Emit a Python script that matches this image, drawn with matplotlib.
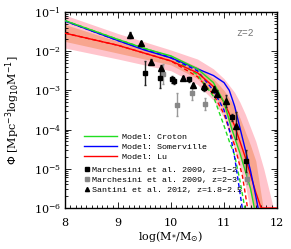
import numpy as np
import matplotlib
matplotlib.use("Agg")
import matplotlib.pyplot as plt
from matplotlib.ticker import MultipleLocator, LogLocator, NullFormatter
from matplotlib.lines import Line2D

# ---- model curves (log10 phi vs log10 M*) ----
croton_x = [8.0, 9.0, 9.5, 10.0, 10.5, 10.8, 11.0, 11.15, 11.3, 11.5, 11.58]
croton_y = [-1.22, -1.70, -1.93, -2.12, -2.45, -2.80, -3.30, -4.00, -4.60, -5.50, -6.05]
croton_dash_x = [8.0, 9.0, 10.0, 10.5, 10.8, 11.0, 11.1, 11.2, 11.3, 11.4]
croton_dash_y = [-1.22, -1.70, -2.15, -2.60, -3.15, -3.90, -4.30, -4.65, -5.30, -6.05]

somerville_x = [8.0, 9.0, 9.5, 10.0, 10.5, 10.8, 11.0, 11.1, 11.2, 11.3, 11.4, 11.5, 11.6, 11.65]
somerville_y = [-1.23, -1.73, -1.97, -2.17, -2.45, -2.62, -2.80, -3.00, -3.40, -3.95, -4.50, -5.05, -5.70, -6.05]
somerville_dash_x = [8.0, 9.0, 10.0, 10.5, 10.8, 11.0, 11.1, 11.2, 11.3, 11.35]
somerville_dash_y = [-1.23, -1.73, -2.17, -2.50, -3.00, -3.50, -4.00, -4.70, -5.60, -6.05]

lu_x = [8.0, 9.0, 9.5, 10.0, 10.5, 10.8, 11.0, 11.2, 11.4, 11.6, 11.7, 12.0]
lu_y = [-1.54, -1.85, -2.05, -2.25, -2.55, -2.90, -3.30, -3.90, -4.70, -5.60, -6.00, -6.00]
lu_dash_x = [8.0, 9.0, 10.0, 10.5, 10.8, 11.0, 11.2, 11.35, 11.45]
lu_dash_y = [-1.54, -1.85, -2.25, -2.65, -3.10, -3.60, -4.40, -5.20, -6.05]

# ---- Lu model uncertainty bands ----
band_x = [8.0, 9.0, 9.5, 10.0, 10.5, 10.8, 11.0, 11.2, 11.3, 11.4, 11.5, 11.6, 11.75, 11.95]
outer_hi = [-1.08, -1.55, -1.76, -1.97, -2.20, -2.45, -2.70, -3.05, -3.30, -3.60, -3.95, -4.30, -5.00, -6.10]
outer_lo = [-1.92, -2.20, -2.35, -2.50, -2.85, -3.25, -3.70, -4.50, -4.95, -5.40, -6.10, -6.10, -6.10, -6.10]
inner_hi = [-1.32, -1.75, -1.93, -2.10, -2.40, -2.70, -3.00, -3.40, -3.70, -4.05, -4.40, -4.80, -6.10, -6.10]
inner_lo = [-1.75, -2.05, -2.20, -2.35, -2.70, -3.10, -3.50, -4.20, -4.60, -5.10, -5.60, -6.10, -6.10, -6.10]

# ---- observations ----
march12_x = [9.51, 9.79, 10.02, 10.06, 10.34, 10.62, 11.16, 11.42]
march12_y = [-2.56, -2.69, -2.72, -2.76, -2.72, -2.94, -3.69, -4.79]
march12_e = [0.30, 0.26, 0.08, 0.08, 0.07, 0.08, 0.10, 0.28]

march23_x = [9.84, 10.11, 10.39, 10.64, 11.44]
march23_y = [-2.58, -3.36, -3.07, -3.35, -5.25]
march23_e = [0.25, 0.30, 0.18, 0.15, 0.15]

santini_x = [9.23, 9.43, 9.63, 9.82, 10.22, 10.42, 10.62, 10.81, 10.87, 11.03, 11.22]
santini_y = [-1.59, -1.80, -2.27, -2.42, -2.68, -2.87, -2.89, -2.97, -3.08, -3.28, -3.90]
santini_e = [0.08, 0.06, 0.06, 0.06, 0.06, 0.06, 0.08, 0.08, 0.10, 0.15, 0.35]

pink = "#ffc4cc"
salmon = "#f8a58f"
green = "#22dd22"

fig = plt.figure(figsize=(2.91, 2.49), dpi=100)
ax = fig.add_axes([65 / 291, 1 - 208 / 249, 212 / 291, 196 / 249])

p = lambda v: 10.0 ** np.asarray(v)

ax.fill_between(band_x, p(outer_lo), p(outer_hi), color=pink, lw=0, zorder=1)
ax.fill_between(band_x, p(inner_lo), p(inner_hi), color=salmon, lw=0, zorder=1.1)

ax.plot(lu_dash_x, p(lu_dash_y), color="red", lw=1.0, dashes=(3, 2), zorder=2)
ax.plot(croton_dash_x, p(croton_dash_y), color=green, lw=1.0, dashes=(3, 2), zorder=2)
ax.plot(somerville_dash_x, p(somerville_dash_y), color="blue", lw=1.0, dashes=(3, 2), zorder=2)

ax.plot(lu_x, p(lu_y), color="red", lw=1.0, zorder=3)
ax.plot(somerville_x, p(somerville_y), color="blue", lw=1.0, zorder=3)
ax.plot(croton_x, p(croton_y), color=green, lw=1.0, zorder=3)


def err(y, e):
    y = np.asarray(y)
    e = np.asarray(e)
    return [10 ** y - 10 ** (y - e), 10 ** (y + e) - 10 ** y]


ax.errorbar(march23_x, p(march23_y), yerr=err(march23_y, march23_e), fmt="s", ms=2.5,
            color="#888888", ecolor="#999999", elinewidth=1, capsize=1, zorder=4)
ax.errorbar(march12_x, p(march12_y), yerr=err(march12_y, march12_e), fmt="s", ms=2.5,
            color="black", ecolor="#222222", elinewidth=1, capsize=1, zorder=5)
ax.errorbar(santini_x, p(santini_y), yerr=err(santini_y, santini_e), fmt="^", ms=3.8,
            color="black", ecolor="#222222", elinewidth=1, capsize=1, zorder=5)

ax.set_yscale("log")
ax.set_xlim(8, 12)
ax.set_ylim(1e-6, 1e-1)
ax.xaxis.set_major_locator(MultipleLocator(1))
ax.xaxis.set_minor_locator(MultipleLocator(0.1))
ax.yaxis.set_major_locator(LogLocator(base=10, numticks=10))
ax.yaxis.set_minor_locator(LogLocator(base=10, subs=np.arange(2, 10), numticks=20))
ax.yaxis.set_minor_formatter(NullFormatter())
ax.tick_params(which="both", direction="in", top=True, right=True, width=0.6)
ax.tick_params(which="major", length=4, labelsize=8)
ax.tick_params(axis="x", which="major", pad=7)
ax.tick_params(axis="y", which="major", pad=3)
ax.tick_params(which="minor", length=2)
for lab in ax.get_xticklabels() + ax.get_yticklabels():
    lab.set_family("DejaVu Serif")
for s in ax.spines.values():
    s.set_linewidth(1.0)

ax.set_xlabel(r"log(M$_{*}$/M$_{\odot}$)", family="DejaVu Serif", fontsize=8)
ax.set_ylabel(r"$\Phi$ [Mpc$^{-3}$log$_{10}$M$^{-1}$]", family="DejaVu Serif", fontsize=8)
ax.xaxis.set_label_coords(0.5, -(229 - 208) / 196)
ax.yaxis.set_label_coords(-(65 - 22) / 212, 0.5)

ax.text(11.4, 10 ** -1.53, "z=2", family="Liberation Mono", fontsize=7, color="#777777",
        ha="center", va="center")

handles = [
    Line2D([], [], color=green, lw=1.0),
    Line2D([], [], color="blue", lw=1.0),
    Line2D([], [], color="red", lw=1.0),
]
labels = ["Model: Croton", "Model: Somerville", "Model: Lu"]
leg1 = ax.legend(handles, labels, loc="lower left", bbox_to_anchor=(0.07, 0.218),
                 frameon=False, prop={"family": "Liberation Mono", "size": 6},
                 handlelength=4.0, handletextpad=0.5, labelspacing=0.25, borderpad=0)
ax.add_artist(leg1)
mh = [
    Line2D([], [], color="black", marker="s", ls="none", ms=2.5),
    Line2D([], [], color="#888888", marker="s", ls="none", ms=2.5),
    Line2D([], [], color="black", marker="^", ls="none", ms=3),
]
ml = ["Marchesini et al. 2009, z=1\u22122", "Marchesini et al. 2009, z=2\u22123",
      "Santini et al. 2012, z=1.8\u22122.5"]
ax.legend(mh, ml, loc="lower left", bbox_to_anchor=(0.075, 0.052), frameon=False,
          prop={"family": "Liberation Mono", "size": 6}, handlelength=0.5,
          handletextpad=0.3, labelspacing=0.25, borderpad=0)

fig.savefig("out.png", dpi=100)
